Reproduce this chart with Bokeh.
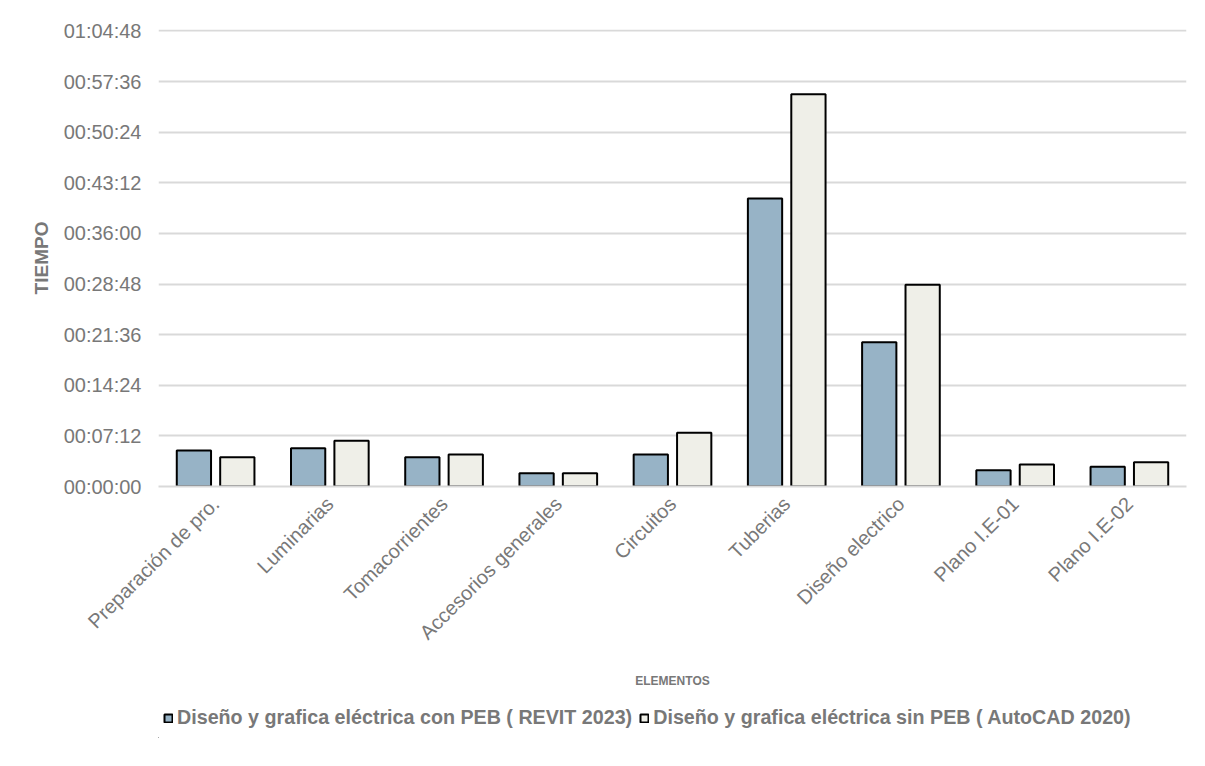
import math
from bokeh.plotting import figure
from bokeh.layouts import column
from bokeh.models import (ColumnDataSource, FactorRange, Range1d, FixedTicker,
                          Legend, LegendItem)
from bokeh.transform import dodge
from bokeh.embed import file_html
from bokeh.resources import INLINE

# ---------------- data ----------------
categories = ["Preparación de pro.", "Luminarias", "Tomacorrientes",
              "Accesorios generales", "Circuitos", "Tuberias",
              "Diseño electrico", "Plano I.E-01", "Plano I.E-02"]
# durations in seconds
con_peb = [307, 327, 250, 113, 273, 2458, 1230, 139, 168]
sin_peb = [250, 390, 273, 113, 458, 3348, 1722, 188, 207]
series_names = ["Diseño y grafica eléctrica con PEB ( REVIT 2023)",
                "Diseño y grafica eléctrica sin PEB ( AutoCAD 2020)"]
tick_seconds = [0, 432, 864, 1296, 1728, 2160, 2592, 3024, 3456, 3888]
tick_labels = ["00:00:00", "00:07:12", "00:14:24", "00:21:36", "00:28:48",
               "00:36:00", "00:43:12", "00:50:24", "00:57:36", "01:04:48"]

# ---------------- style ----------------
FONT = "Liberation Sans"
TXT = "#787878"
C_CON = "#97B3C6"
C_SIN = "#EFEFE8"

source = ColumnDataSource(dict(cat=categories, con=con_peb, sin=sin_peb))

p = figure(x_range=FactorRange(factors=categories),
           y_range=Range1d(0, 3900),
           frame_width=1028, frame_height=457,
           min_border_left=158, min_border_right=13,
           min_border_top=29, min_border_bottom=220,
           output_backend="svg", toolbar_location=None)
p.outline_line_color = None
p.background_fill_color = "white"
p.border_fill_color = "white"

bar_style = [dict(fill_color=C_CON, line_color="black", line_width=2),
             dict(fill_color=C_SIN, line_color="black", line_width=2)]

p.vbar(x=dodge("cat", -0.19, range=p.x_range), top="con", width=0.30,
       source=source, **bar_style[0])
p.vbar(x=dodge("cat", 0.19, range=p.x_range), top="sin", width=0.30,
       source=source, **bar_style[1])

# grid
p.xgrid.visible = False
p.ygrid.grid_line_color = "#d9d9d9"
p.ygrid.grid_line_width = 2

# y axis
p.yaxis.ticker = FixedTicker(ticks=tick_seconds)
p.yaxis.major_label_overrides = {t: l for t, l in zip(tick_seconds, tick_labels)}
p.yaxis.axis_line_color = None
p.yaxis.major_tick_line_color = None
p.yaxis.minor_tick_line_color = None
p.yaxis.major_tick_out = 0
p.yaxis.major_tick_in = 0
p.yaxis.major_label_standoff = 17
p.yaxis.major_label_text_font = FONT
p.yaxis.major_label_text_font_size = "20px"
p.yaxis.major_label_text_color = TXT
p.yaxis.axis_label = "TIEMPO"
p.yaxis.axis_label_text_font = FONT
p.yaxis.axis_label_text_font_size = "19px"
p.yaxis.axis_label_text_font_style = "bold"
p.yaxis.axis_label_text_color = TXT
p.yaxis.axis_label_standoff = 9

# x axis
p.xaxis.axis_line_color = "#d9d9d9"
p.xaxis.axis_line_width = 2
p.xaxis.major_tick_line_color = None
p.xaxis.minor_tick_line_color = None
p.xaxis.major_tick_out = 0
p.xaxis.major_tick_in = 0
p.xaxis.major_label_orientation = math.pi / 4
p.xaxis.major_label_standoff = 14
p.xaxis.major_label_text_font = FONT
p.xaxis.major_label_text_font_size = "20px"
p.xaxis.major_label_text_color = TXT
p.xaxis.axis_label = "ELEMENTOS"
p.xaxis.axis_label_text_font = FONT
p.xaxis.axis_label_text_font_size = "12px"
p.xaxis.axis_label_text_font_style = "bold"
p.xaxis.axis_label_text_color = TXT
p.xaxis.axis_label_standoff = 20

# ---------------- legend strip ----------------
leg = figure(width=1199, height=32, x_range=Range1d(0, 1), y_range=Range1d(0, 1),
             x_axis_location=None, y_axis_location=None,
             min_border_left=0, min_border_right=0, min_border_top=0,
             min_border_bottom=0, output_backend="svg", toolbar_location=None)
leg.grid.visible = False
leg.outline_line_color = None
leg.background_fill_color = "white"
leg.border_fill_color = "white"
# swatch-only renderers: their single mark lies outside the strip's visible range
swatch = ColumnDataSource(dict(x=[-10], top=[-10]))
lr1 = leg.vbar(x="x", top="top", width=0.1, source=swatch, **bar_style[0])
lr2 = leg.vbar(x="x", top="top", width=0.1, source=swatch, **bar_style[1])

legend = Legend(items=[LegendItem(label=series_names[0], renderers=[lr1]),
                       LegendItem(label=series_names[1], renderers=[lr2])],
                orientation="horizontal", location=(5, 9),
                label_text_font=FONT, label_text_font_size="19.7px",
                label_text_font_style="bold", label_text_color=TXT,
                glyph_width=10, glyph_height=10, label_standoff=4,
                spacing=7, padding=0, margin=0,
                border_line_color=None, background_fill_alpha=0)
leg.add_layout(legend, "center")

open("out.html", "w").write(file_html(column(p, leg), INLINE))
